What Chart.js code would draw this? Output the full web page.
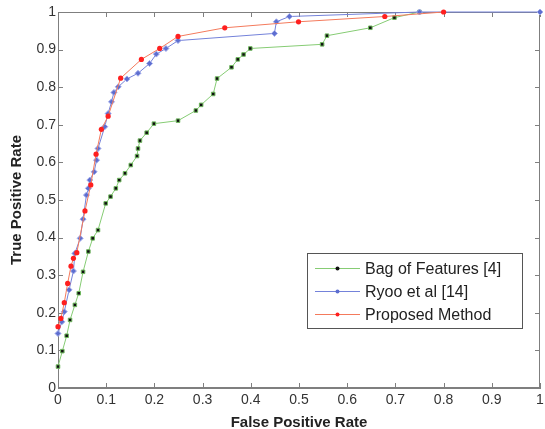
<!DOCTYPE html>
<html>
<head>
<meta charset="utf-8">
<script src="https://cdn.jsdelivr.net/npm/chart.js@4/dist/chart.umd.min.js"></script>
<style>
  html, body { margin: 0; padding: 0; background: #fff; }
  #wrap { width: 545px; height: 429px; }
</style>
</head>
<body>
<div id="wrap"><canvas id="roc"></canvas></div>
<script>
// ROC curves
var seriesNames = ['Bag of Features [4]', 'Ryoo et al [14]', 'Proposed Method'];

var bofFpr = [0.0, 0.009, 0.018, 0.025, 0.035, 0.043, 0.052, 0.063, 0.072, 0.083, 0.099, 0.109, 0.120, 0.127, 0.139, 0.151, 0.164, 0.166, 0.170, 0.184, 0.199, 0.249, 0.286, 0.297, 0.322, 0.330, 0.360, 0.373, 0.385, 0.399, 0.548, 0.558, 0.648, 0.698, 0.75];
var bofTpr = [0.057, 0.098, 0.139, 0.181, 0.221, 0.252, 0.309, 0.363, 0.398, 0.420, 0.491, 0.509, 0.531, 0.553, 0.571, 0.593, 0.617, 0.637, 0.658, 0.679, 0.703, 0.711, 0.738, 0.753, 0.782, 0.823, 0.853, 0.874, 0.887, 0.903, 0.914, 0.937, 0.958, 0.985, 1.0];

var ryooFpr = [0.0, 0.008, 0.013, 0.023, 0.032, 0.035, 0.046, 0.052, 0.059, 0.063, 0.066, 0.075, 0.080, 0.083, 0.097, 0.104, 0.111, 0.116, 0.125, 0.143, 0.166, 0.190, 0.204, 0.224, 0.249, 0.449, 0.453, 0.480, 0.75, 1.0];
var ryooTpr = [0.145, 0.176, 0.203, 0.261, 0.311, 0.358, 0.398, 0.449, 0.513, 0.531, 0.553, 0.575, 0.606, 0.637, 0.695, 0.730, 0.761, 0.786, 0.801, 0.822, 0.837, 0.863, 0.888, 0.903, 0.924, 0.943, 0.974, 0.988, 1.0, 1.0];

var propFpr = [0.0, 0.006, 0.013, 0.020, 0.027, 0.032, 0.039, 0.056, 0.068, 0.079, 0.090, 0.104, 0.130, 0.173, 0.211, 0.249, 0.346, 0.499, 0.678, 0.80];
var propTpr = [0.163, 0.185, 0.227, 0.278, 0.324, 0.345, 0.360, 0.471, 0.540, 0.622, 0.688, 0.723, 0.824, 0.874, 0.903, 0.935, 0.958, 0.974, 0.988, 1.0];

function pts(xs, ys) {
    return xs.map(function (x, i) { return { x: x, y: ys[i] }; });
}

function tickText(v) {
    return String(Math.round(v * 10) / 10);
}

var AXIS = '#7f7f7f';
var TEXT = '#333333';

// MATLAB-style box with inward ticks
var boxPlugin = {
    id: 'box',
    beforeDatasetsDraw: function (chart) {
        var ctx = chart.ctx, a = chart.chartArea;
        var xs = chart.scales.x, ys = chart.scales.y;
        ctx.save();
        ctx.strokeStyle = AXIS;
        ctx.lineWidth = 1;
        ctx.strokeRect(a.left + 0.5, a.top + 0.5, a.right - a.left - 1, a.bottom - a.top - 1);
        ctx.beginPath();
        xs.ticks.forEach(function (t) {
            var px = Math.round(xs.getPixelForValue(t.value)) + 0.5;
            ctx.moveTo(px, a.bottom); ctx.lineTo(px, a.bottom - 5);
            ctx.moveTo(px, a.top); ctx.lineTo(px, a.top + 5);
        });
        ys.ticks.forEach(function (t) {
            var py = Math.round(ys.getPixelForValue(t.value)) + 0.5;
            ctx.moveTo(a.left, py); ctx.lineTo(a.left + 5, py);
            ctx.moveTo(a.right, py); ctx.lineTo(a.right - 5, py);
        });
        ctx.stroke();
        ctx.restore();
    }
};

// legend box in lower right of plot
var legendPlugin = {
    id: 'boxLegend',
    afterDatasetsDraw: function (chart) {
        var ctx = chart.ctx;
        var x0 = 307, y0 = 253, w = 215, h = 75;
        ctx.save();
        ctx.fillStyle = '#fff';
        ctx.fillRect(x0, y0, w, h);
        ctx.strokeStyle = '#555';
        ctx.lineWidth = 1;
        ctx.strokeRect(x0 + 0.5, y0 + 0.5, w, h);
        var rows = [268, 291, 314];
        chart.data.datasets.forEach(function (ds, i) {
            var y = rows[i] + 0.5;
            ctx.strokeStyle = ds.borderColor;
            ctx.beginPath();
            ctx.moveTo(315, y); ctx.lineTo(360, y);
            ctx.stroke();
            ctx.fillStyle = ds.pointBackgroundColor;
            ctx.beginPath();
            ctx.arc(337.5, y, 2, 0, Math.PI * 2);
            ctx.fill();
            ctx.fillStyle = '#222';
            ctx.font = '16px "Liberation Sans", Arial, sans-serif';
            ctx.textBaseline = 'middle';
            ctx.fillText(seriesNames[i], 365, y + 1);
        });
        ctx.restore();
    }
};

document.addEventListener('DOMContentLoaded', function () {
    new Chart(document.getElementById('roc'), {
        type: 'line',
        data: {
            datasets: [
                {
                    label: seriesNames[0],
                    data: pts(bofFpr, bofTpr),
                    borderColor: '#86cc74',
                    borderWidth: 1,
                    pointStyle: 'rect',
                    pointRadius: 2.5,
                    pointBackgroundColor: '#111',
                    pointBorderColor: '#6fb85e',
                    pointBorderWidth: 1,
                    order: 2
                },
                {
                    label: seriesNames[1],
                    data: pts(ryooFpr, ryooTpr),
                    borderColor: '#7482da',
                    borderWidth: 1,
                    pointStyle: 'rectRot',
                    pointRadius: 3,
                    pointBackgroundColor: '#5d6ed0',
                    pointBorderColor: '#a3acea',
                    pointBorderWidth: 1,
                    order: 1
                },
                {
                    label: seriesNames[2],
                    data: pts(propFpr, propTpr),
                    borderColor: '#f47a5c',
                    borderWidth: 1,
                    pointStyle: 'circle',
                    pointRadius: 2.6,
                    pointBackgroundColor: '#ff1f1f',
                    pointBorderColor: '#ff1f1f',
                    pointBorderWidth: 0,
                    order: 0
                }
            ]
        },
        options: {
            responsive: true,
            maintainAspectRatio: false,
            animation: false,
            clip: false,
            layout: { padding: { top: 12, right: 0, left: 0, bottom: 0 } },
            plugins: { legend: { display: false }, tooltip: { enabled: false } },
            scales: {
                x: {
                    type: 'linear',
                    min: 0, max: 1,
                    ticks: { stepSize: 0.1, color: TEXT, padding: 4, callback: tickText,
                             font: { size: 14, family: '"Liberation Sans", Arial' } },
                    grid: { display: false, drawTicks: false },
                    border: { color: AXIS },
                    title: { display: true, text: 'False Positive Rate', color: '#222', padding: { top: 1, bottom: -1 },
                             font: { size: 15, weight: 'bold', lineHeight: 1, family: '"Liberation Sans", Arial' } },
                    afterFit: function (s) { s.height = 41; s.paddingRight = 4; }
                },
                y: {
                    type: 'linear',
                    min: 0, max: 1,
                    ticks: { stepSize: 0.1, color: TEXT, padding: 2, callback: tickText,
                             font: { size: 14, family: '"Liberation Sans", Arial' } },
                    grid: { display: false, drawTicks: false },
                    border: { color: AXIS },
                    title: { display: true, text: 'True Positive Rate', color: '#222', padding: { top: 8, bottom: 0 },
                             font: { size: 15, weight: 'bold', family: '"Liberation Sans", Arial' } },
                    afterFit: function (s) { s.width = 58; s.paddingTop = 0; }
                }
            }
        },
        plugins: [boxPlugin, legendPlugin]
    });
});
</script>
</body>
</html>
